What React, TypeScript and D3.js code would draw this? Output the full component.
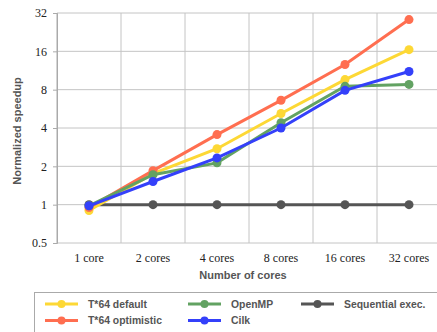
import { useEffect, useRef } from "react";
import * as d3 from "d3";

const categories = ["1 core", "2 cores", "4 cores", "8 cores", "16 cores", "32 cores"];
const yTicks = [0.5, 1, 2, 4, 8, 16, 32];

const t64Default = [0.9, 1.75, 2.75, 5.2, 9.6, 16.5];
const t64Optimistic = [0.95, 1.85, 3.55, 6.6, 12.6, 28.4];
const openMP = [0.98, 1.72, 2.13, 4.4, 8.5, 8.8];
const cilk = [0.98, 1.52, 2.33, 4.0, 7.9, 11.1];
const sequential = [1, 1, 1, 1, 1, 1];

const series = [
  { name: "Sequential exec.", values: sequential, color: "#555555" },
  { name: "T*64 default", values: t64Default, color: "#fdd835" },
  { name: "T*64 optimistic", values: t64Optimistic, color: "#ff6e50" },
  { name: "OpenMP", values: openMP, color: "#62a262" },
  { name: "Cilk", values: cilk, color: "#3440fa" },
];

const legendOrder = [
  ["T*64 default", "T*64 optimistic"],
  ["OpenMP", "Cilk"],
  ["Sequential exec."],
];

const W = 437;
const H = 332;
const margin = { left: 57, top: 13, right: -4, bottom: 89 };
const serif = "'Liberation Serif', 'DejaVu Serif', 'Times New Roman', serif";
const sans = "'Liberation Sans', Arial, sans-serif";

export default function App() {
  const svgRef = useRef<SVGSVGElement>(null);

  useEffect(() => {
    const svg = d3.select(svgRef.current);
    svg.selectAll("*").remove();

    const x = d3
      .scaleBand()
      .domain(categories)
      .range([margin.left, W - margin.right]);
    const y = d3
      .scaleLog()
      .base(2)
      .domain([0.5, 32])
      .range([H - margin.bottom, margin.top]);

    const grid = svg.append("g");
    // horizontal gridlines
    grid
      .selectAll("line.h")
      .data(yTicks)
      .join("line")
      .attr("x1", margin.left)
      .attr("x2", W - margin.right)
      .attr("y1", (d) => y(d))
      .attr("y2", (d) => y(d))
      .attr("stroke", "#c4c4c4")
      .attr("stroke-width", 1);
    // vertical gridlines at band edges
    grid
      .selectAll("line.v")
      .data(categories)
      .join("line")
      .attr("x1", (d) => x(d)!)
      .attr("x2", (d) => x(d)!)
      .attr("y1", margin.top)
      .attr("y2", H - margin.bottom)
      .attr("stroke", (d, i) => (i === 0 ? "#aaaaaa" : "#c4c4c4"))
      .attr("stroke-width", 1);

    // y axis
    const yAxis = svg
      .append("g")
      .attr("transform", `translate(${margin.left},0)`)
      .call(
        d3
          .axisLeft(y)
          .tickValues(yTicks)
          .tickFormat((d) => String(d))
          .tickSize(4)
          .tickPadding(6)
      );
    yAxis.attr("font-family", null);
    yAxis.select(".domain").attr("stroke", "#aaaaaa");
    yAxis.selectAll(".tick line").attr("stroke", "#aaaaaa");
    yAxis
      .selectAll("text")
      .style("font-family", serif)
      .attr("font-size", 12)
      .attr("fill", "#222");

    // x labels
    svg
      .append("g")
      .selectAll("text")
      .data(categories)
      .join("text")
      .attr("x", (d) => x(d)! + x.bandwidth() / 2)
      .attr("y", 262)
      .attr("text-anchor", "middle")
      .style("font-family", serif)
      .attr("font-size", 12)
      .attr("fill", "#222")
      .text((d) => d);

    // axis titles
    svg
      .append("text")
      .attr("x", 243)
      .attr("y", 279)
      .attr("text-anchor", "middle")
      .style("font-family", sans)
      .attr("font-weight", "bold")
      .attr("font-size", 11)
      .attr("fill", "#555")
      .text("Number of cores");
    svg
      .append("text")
      .attr("transform", `translate(21,${(margin.top + H - margin.bottom) / 2 + 3}) rotate(-90)`)
      .attr("text-anchor", "middle")
      .style("font-family", sans)
      .attr("font-weight", "bold")
      .attr("font-size", 11)
      .attr("fill", "#555")
      .text("Normalized speedup");

    // lines + points
    const line = d3
      .line<number>()
      .x((_, i) => x(categories[i])! + x.bandwidth() / 2)
      .y((d) => y(d));

    series.forEach((s) => {
      const g = svg.append("g");
      g.append("path")
        .datum(s.values)
        .attr("d", line)
        .attr("fill", "none")
        .attr("stroke", s.color)
        .attr("stroke-width", 3);
      g.selectAll("circle")
        .data(s.values)
        .join("circle")
        .attr("cx", (_, i) => x(categories[i])! + x.bandwidth() / 2)
        .attr("cy", (d) => y(d))
        .attr("r", 4.5)
        .attr("fill", s.color);
    });

    // legend
    const legend = svg.append("g");
    legend
      .append("rect")
      .attr("x", 34.5)
      .attr("y", 292.5)
      .attr("width", 420)
      .attr("height", 60)
      .attr("fill", "white")
      .attr("stroke", "#aaaaaa");
    const colX = [45, 188, 301];
    legendOrder.forEach((col, ci) => {
      col.forEach((name, ri) => {
        const s = series.find((d) => d.name === name)!;
        const ly = 304 + ri * 16.5;
        const item = legend.append("g");
        item
          .append("line")
          .attr("x1", colX[ci])
          .attr("x2", colX[ci] + 33)
          .attr("y1", ly)
          .attr("y2", ly)
          .attr("stroke", s.color)
          .attr("stroke-width", 3);
        item
          .append("circle")
          .attr("cx", colX[ci] + 16.5)
          .attr("cy", ly)
          .attr("r", 4)
          .attr("fill", s.color);
        item
          .append("text")
          .attr("x", colX[ci] + 43)
          .attr("y", ly + 3.5)
          .style("font-family", sans)
          .attr("font-weight", "bold")
          .attr("font-size", 10.4)
          .attr("fill", "#555")
          .text(name);
      });
    });
  }, []);

  return (
    <svg
      ref={svgRef}
      width={W}
      height={H}
      style={{ position: "absolute", left: 0, top: 0, background: "white" }}
    ></svg>
  );
}
